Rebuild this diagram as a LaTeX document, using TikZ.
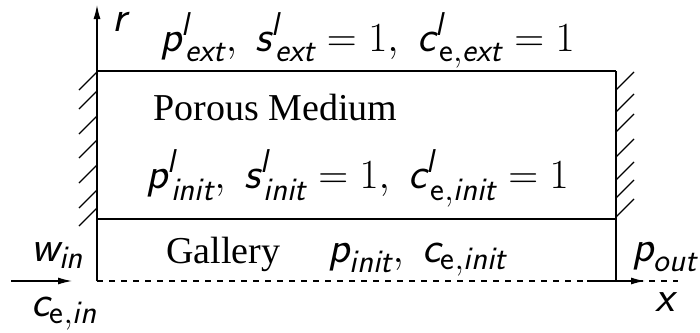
\documentclass[tikz,border=0pt]{standalone}
\usepackage{amsmath}
\usepackage{fontspec}
\setmainfont{Liberation Serif}
\usetikzlibrary{arrows.meta}
\DeclareMathSizes{22}{22}{16.5}{12}
\tikzset{
  wall/.style  = {line width=1.2pt},
  edge/.style  = {line width=0.6pt},
  hatch/.style = {line width=0.6pt},
  axis/.style  = {-{Latex[length=7pt, width=3.5pt]}, line width=0.6pt},
  mlab/.style  = {anchor=base west, inner sep=0pt, font=\fontsize{22}{25}\selectfont},
  tlab/.style  = {anchor=base west, inner sep=0pt, font=\fontsize{19}{22}\selectfont},
}
\newcommand{\sv}[1]{\textsf{\itshape #1}}
\newcommand{\sn}[1]{\textsf{#1}}

\begin{document}
\begin{tikzpicture}[x=0.5pt, y=-0.5pt]
  \useasboundingbox (0,0) rectangle (700,332);
  % geometry
  \coordinate (o)    at (97,281);
  \coordinate (rtop) at (97,5);
  \coordinate (tl)   at (97,71);
  \coordinate (tr)   at (616,71);
  \coordinate (ml)   at (97,219);
  \coordinate (mr)   at (616,219);
  \coordinate (br)   at (616,281);
  \coordinate (xend) at (678,281);
  \coordinate (xa)   at (587,281);
  \coordinate (xb)   at (645,281);
  \coordinate (ina)  at (11,281);
  \coordinate (inb)  at (72,281);

  \draw[axis] (o) -- (rtop);
  \draw[wall] (o) -- (tl) -- (tr);
  \draw[wall] (ml) -- (mr);
  \draw[edge] (tr) -- (br);
  \draw[edge, dashed] (o) -- (xend);
  \draw[axis] (xa) -- (xb);
  \draw[axis] (ina) -- (inb);

  % walls
  \foreach \y in {72,91,116,140,165,190,208}
    \draw[hatch] (97,\y) -- ++(-18,18);
  \foreach \y in {90,112,132,157,180,198,217}
    \draw[hatch] (616,\y) -- ++(18,-18);

  % labels
  \node[mlab] (r) at (112,32) {$\sv{r}$};
  \node[mlab] (ext) at (160,51)
    {$\sv{p}^{\sv{l}}_{\mkern2mu\sv{ext}},\; \sv{s}^{\sv{l}}_{\mkern2mu\sv{ext}} = 1,\; \sv{c}^{\sv{l}}_{\mkern2mu\sn{e},\sv{ext}} = 1$};
  \node[tlab] (pm) at (153,120) {Porous Medium};
  \node[mlab] (init) at (146,188)
    {$\sv{p}^{\sv{l}}_{\mkern2mu\sv{init}},\; \sv{s}^{\sv{l}}_{\mkern2mu\sv{init}} = 1,\; \sv{c}^{\sv{l}}_{\mkern2mu\sn{e},\sv{init}} = 1$};
  \node[tlab] (gal) at (166,263) {Gallery};
  \node[mlab] (gin) at (328,262) {$\sv{p}_{\sv{init}},\; \sv{c}_{\sn{e},\sv{init}}$};
  \node[mlab] (win) at (31,261) {$\sv{w}_{\sv{in}}$};
  \node[mlab] (cin) at (31,316) {$\sv{c}_{\sn{e},\sv{in}}$};
  \node[mlab] (pout) at (632,261) {$\sv{p}_{\sv{out}}$};
  \node[mlab] (x) at (655,311) {$\sv{x}$};
\end{tikzpicture}
\end{document}
